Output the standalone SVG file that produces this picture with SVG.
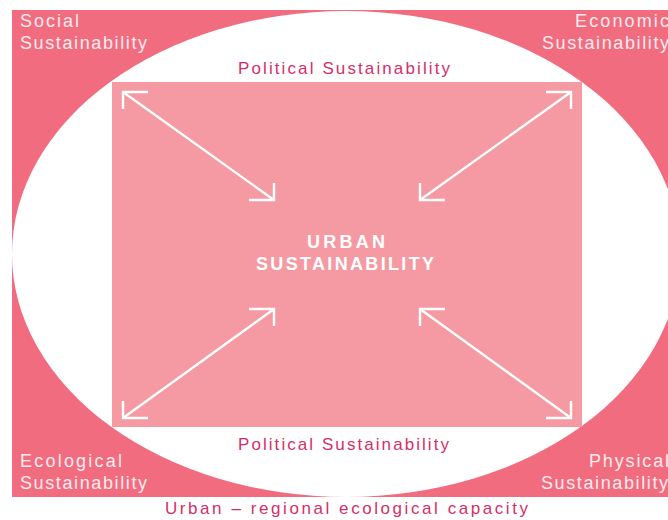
<svg xmlns="http://www.w3.org/2000/svg" width="668" height="520" viewBox="0 0 668 520">
<style>
.corner{font-family:"Liberation Sans",Arial,sans-serif;font-size:18px;fill:#FDEBEE}
.pol{font-family:"Liberation Sans",Arial,sans-serif;font-size:17px;fill:#D42F68}
.core{font-family:"Liberation Sans",Arial,sans-serif;font-size:18px;font-weight:bold;fill:#FFFFFF}
.arr{fill:none;stroke:#FFFFFF;stroke-width:2.4;stroke-linecap:butt;stroke-linejoin:miter}
</style>
<rect x="0" y="0" width="668" height="520" fill="#FFFFFF"/>
<g id="outer">
<rect x="12" y="10" width="680" height="487" fill="#F26C80"/>
<ellipse cx="346" cy="254" rx="334" ry="243" fill="#FFFFFF"/>
</g>
<g id="core">
<rect x="112" y="82" width="470" height="345" fill="#F59AA2"/>
<text class="core" x="307" y="248" textLength="78" lengthAdjust="spacing">URBAN</text>
<text class="core" x="256" y="270" textLength="178" lengthAdjust="spacing">SUSTAINABILITY</text>
</g>
<g id="social">
<text class="corner" x="20" y="27" textLength="59" lengthAdjust="spacing">Social</text>
<text class="corner" x="20" y="48.5" textLength="127" lengthAdjust="spacing">Sustainability</text>
</g>
<g id="economic">
<text class="corner" x="575" y="27" textLength="94" lengthAdjust="spacing">Economic</text>
<text class="corner" x="542" y="48.5" textLength="127" lengthAdjust="spacing">Sustainability</text>
</g>
<g id="ecological">
<text class="corner" x="20" y="467" textLength="102" lengthAdjust="spacing">Ecological</text>
<text class="corner" x="20" y="489" textLength="127" lengthAdjust="spacing">Sustainability</text>
</g>
<g id="physical">
<text class="corner" x="589" y="467" textLength="80" lengthAdjust="spacing">Physical</text>
<text class="corner" x="541" y="489" textLength="127" lengthAdjust="spacing">Sustainability</text>
</g>
<g id="political-top">
<text class="pol" x="238" y="74" textLength="212" lengthAdjust="spacing">Political Sustainability</text>
</g>
<g id="political-bottom">
<text class="pol" x="238" y="449.5" textLength="211" lengthAdjust="spacing">Political Sustainability</text>
</g>
<g id="capacity">
<text class="pol" x="165" y="514" textLength="363" lengthAdjust="spacing">Urban – regional ecological capacity</text>
</g>
<g id="connectors">
<line class="arr" x1="123" y1="92" x2="274" y2="200"/>
<polyline class="arr" points="148,92 123,92 123,109"/>
<polyline class="arr" points="249,200 274,200 274,183"/>
<line class="arr" x1="571" y1="92" x2="420" y2="200"/>
<polyline class="arr" points="546,92 571,92 571,109"/>
<polyline class="arr" points="445,200 420,200 420,183"/>
<line class="arr" x1="274" y1="309" x2="123" y2="418"/>
<polyline class="arr" points="249,309 274,309 274,326"/>
<polyline class="arr" points="148,418 123,418 123,401"/>
<line class="arr" x1="420" y1="309" x2="571" y2="418"/>
<polyline class="arr" points="445,309 420,309 420,326"/>
<polyline class="arr" points="546,418 571,418 571,401"/>
</g>
</svg>
